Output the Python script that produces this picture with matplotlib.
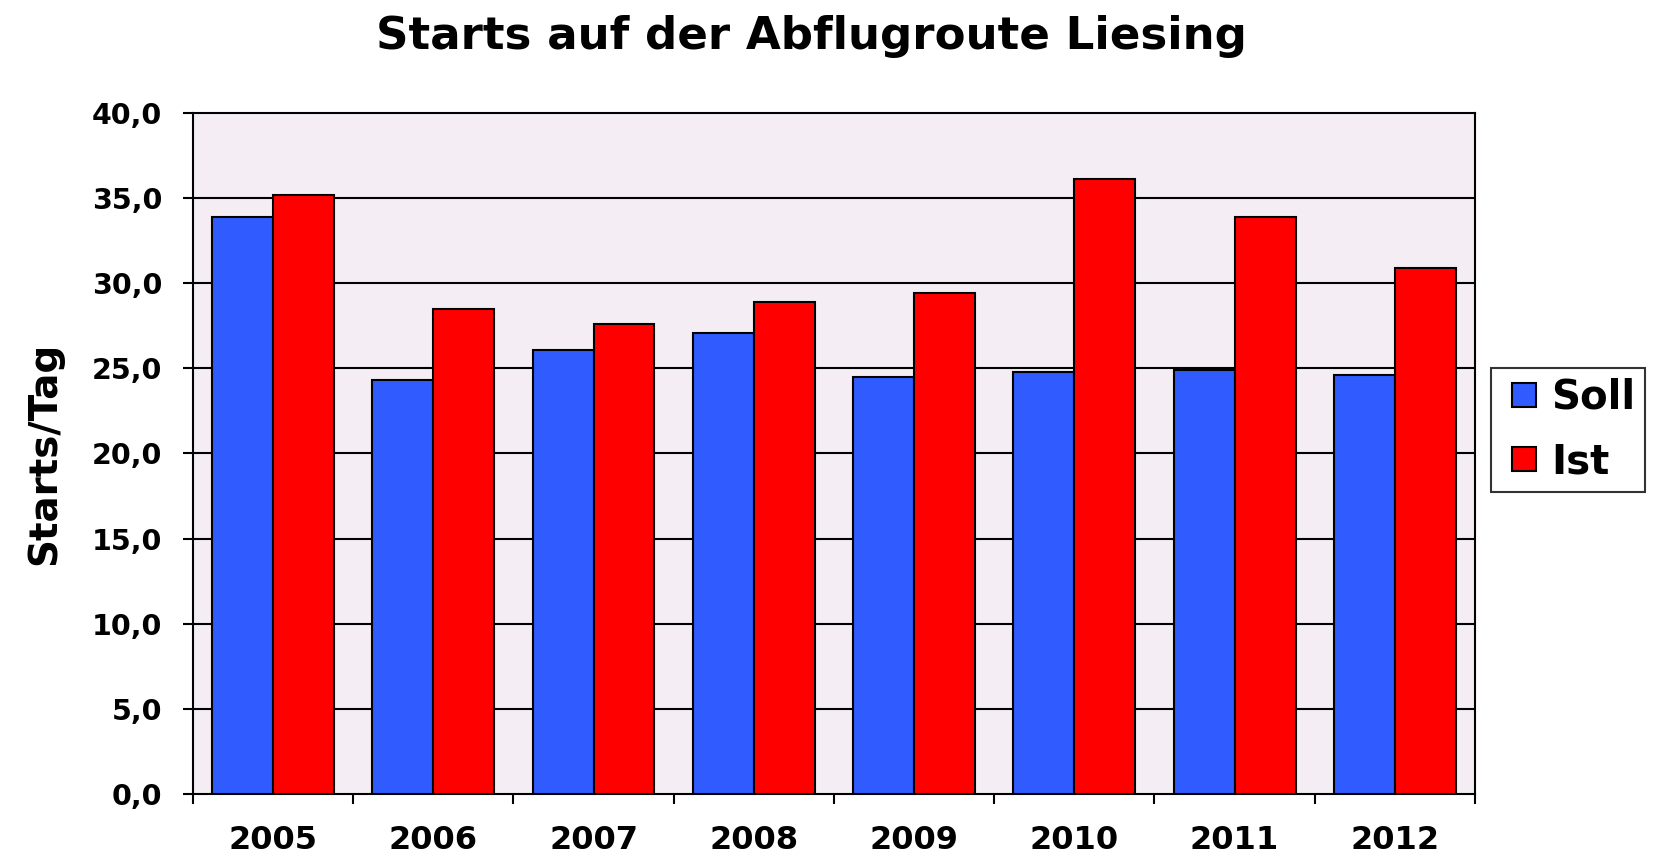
import numpy as np
import matplotlib
matplotlib.use("Agg")
import matplotlib.pyplot as plt
from matplotlib.lines import Line2D
from matplotlib.ticker import FuncFormatter

years = ["2005", "2006", "2007", "2008", "2009", "2010", "2011", "2012"]
soll = [33.9, 24.3, 26.1, 27.1, 24.5, 24.8, 24.9, 24.6]
ist = [35.2, 28.5, 27.6, 28.9, 29.4, 36.1, 33.9, 30.9]

BLUE = "#2F5BFF"
RED = "#FF0000"
BG = "#F4EEF4"

plt.rcParams["font.family"] = ["DejaVu Sans"]
plt.rcParams["font.weight"] = "bold"

fig = plt.figure(figsize=(16.56, 8.61), dpi=100)
ax = fig.add_axes([0.1165, 0.0778, 0.7742, 0.791])
ax.set_facecolor(BG)

x = np.arange(len(years))
w = 0.38
ax.bar(x - w / 2, soll, w, color=BLUE, edgecolor="black", lw=1.5, zorder=3)
ax.bar(x + w / 2, ist, w, color=RED, edgecolor="black", lw=1.5, zorder=3)

ax.set_xlim(-0.5, len(years) - 0.5)
ax.set_ylim(0, 40)
ax.set_yticks(np.arange(0, 41, 5))
ax.yaxis.set_major_formatter(FuncFormatter(lambda v, p: f"{v:.1f}".replace(".", ",")))
for v in range(5, 40, 5):
    ax.axhline(v, color="black", lw=1.5, zorder=1)

ax.set_xticks(np.arange(-0.5, len(years), 1.0))
ax.set_xticklabels([])
ax.set_xticks(x, minor=True)
ax.set_xticklabels(years, minor=True)
ax.tick_params(axis="x", which="major", length=7, width=1.5, direction="out")
ax.tick_params(axis="x", which="minor", length=0, pad=22, labelsize=23)
ax.tick_params(axis="y", length=7, width=1.5, direction="out", labelsize=20.5, pad=15)

for s in ax.spines.values():
    s.set_linewidth(1.5)
    s.set_color("black")

ax.set_ylabel("Starts/Tag", fontsize=28, fontweight="bold", va="center")
ax.yaxis.set_label_coords(-0.116, 0.5)
fig.text(0.49, 0.958, "Starts auf der Abflugroute Liesing", ha="center", va="center",
         fontsize=32.5, fontweight="bold")

handles = [Line2D([], [], ls="none", marker="s", ms=17.5, mfc=c, mec="black", mew=1.5)
           for c in (BLUE, RED)]
leg = ax.legend(handles, ["Soll", "Ist"], loc="center left", bbox_to_anchor=(0.9004, 0.5006),
                bbox_transform=fig.transFigure, borderaxespad=0,
                fontsize=29, frameon=True, fancybox=False, edgecolor="black",
                handlelength=1.14, handletextpad=0.1,
                borderpad=0.25, labelspacing=0.61)
leg.get_frame().set_linewidth(1.5)
for t in leg.get_texts():
    t.set_fontweight("bold")

fig.savefig("out.png", dpi=100)
